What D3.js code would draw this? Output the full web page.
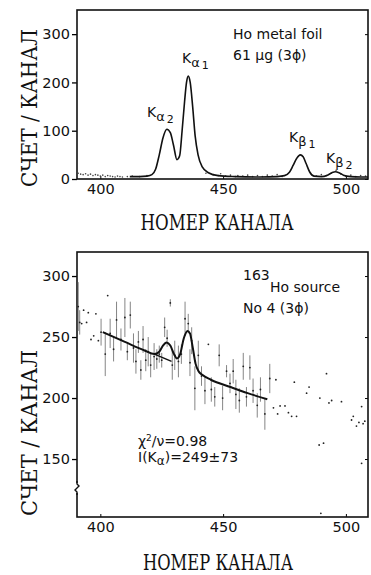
<!DOCTYPE html>
<html>
<head>
<meta charset="utf-8">
<script src="https://cdn.jsdelivr.net/npm/d3@7"></script>
<style>
  body { margin: 0; background: #fff; }
  svg { display: block; }
  .tick text { font-family: 'DejaVu Sans', sans-serif; font-size: 14.5px; fill: #111; }
  .note { font-family: 'DejaVu Sans', sans-serif; font-size: 14px; fill: #111; }
  .title { font-family: 'DejaVu Serif', serif; font-size: 22px; fill: #111; }
</style>
</head>
<body>
<div id="chart"></div>
<script>
// top panel: Ho metal foil spectrum (smooth curve + scattered background counts)
const foilChannels = [412, 416, 419, 421, 422.5, 424, 425.5, 427.1, 428.5, 429.8, 431.2, 432.3, 433.3, 434.3, 435.1, 435.8, 436.6, 437.6, 438.6, 439.8, 441.5, 444, 448, 455, 465, 472, 475, 477, 478.5, 480, 481.4, 482.6, 483.8, 485.2, 487, 490, 492.5, 494.3, 495.7, 497.2, 499, 502, 506, 509];
const foilCounts = [5, 5, 6, 9, 20, 50, 85, 103, 96, 70, 40, 48, 100, 160, 200, 213, 200, 150, 90, 50, 25, 13, 7, 5, 4, 5, 7, 14, 28, 43, 50, 46, 32, 15, 6, 5, 8, 13, 15, 13, 8, 5, 4, 4];
const foilDotChannels = [391, 392, 393, 394, 395, 396, 397, 398, 399, 400, 401, 402, 403, 404, 405, 406, 407, 408, 409, 411, 413, 416, 419, 443, 446, 448, 449, 451, 453, 455, 456, 458, 460, 462, 464, 466, 468, 470, 472, 474, 488, 490, 492, 494, 496, 498, 500, 502, 504, 506, 508];
const foilDotCounts = [12, 10, 9, 11, 8, 10, 7, 9, 8, 6, 8, 5, 7, 6, 5, 4, 6, 5, 4, 5, 6, 5, 7, 12, 9, 7, 11, 6, 8, 5, 7, 6, 8, 5, 7, 5, 8, 6, 9, 5, 6, 9, 7, 12, 18, 10, 6, 8, 5, 7, 6];

// bottom panel: 163Ho source, points with error bars
const srcChannels = [391, 391.6, 400.3, 402, 404, 405.4, 406.6, 408.4, 410, 411, 412.2, 413.5, 414.5, 415.5, 416.5, 417.4, 418.5, 419.5, 420.5, 421.9, 423, 424, 425, 426.2, 427.2, 428.5, 429.3, 430.3, 431.8, 433, 434.5, 435.8, 436.5, 437.2, 438.5, 439.9, 441.2, 442.6, 445.2, 446.6, 448.4, 449.8, 451.4, 452.8, 454.1, 455.2, 456.6, 458.2, 459.5, 460.9, 462.2, 463.9, 465.2, 467, 469];
const srcCounts = [275, 262, 254, 236, 253, 240, 264, 248, 266, 238, 268, 241, 230, 246, 223, 248, 231, 238, 227, 234, 232, 236, 231, 258, 249, 278, 227, 235, 230, 236, 265, 261, 229, 247, 208, 235, 218, 206, 207, 201, 235, 200, 222, 212, 222, 203, 198, 226, 201, 225, 206, 194, 207, 187, 216];
const srcErrors = [20, 10, 11, 18, 12, 10, 15, 9, 16, 7, 11, 12, 10, 9, 8, 11, 9, 12, 10, 11, 8, 7, 6, 8, 7, 3, 12, 12, 13, 8, 14, 8, 11, 11, 18, 12, 8, 11, 10, 8, 9, 10, 5, 8, 10, 12, 10, 11, 8, 10, 10, 10, 10, 13, 12];
const srcDotChannels = [392.4, 393.2, 394.4, 395.1, 396.2, 397.3, 398.2, 399.2, 403, 444, 470.5, 471.5, 472.2, 473.2, 475.2, 476.6, 477.9, 479, 479.9, 484, 485, 489.1, 489.4, 489.8, 490.9, 492.1, 493.1, 494.2, 498.2, 502.3, 503, 504.3, 505.3, 506.4, 506.4, 507, 507.7];
const srcDotCounts = [261, 272, 262, 270, 248, 251, 269, 247, 284, 244, 192, 215, 187, 193.5, 193.5, 188, 185, 213, 185, 204, 209, 161.5, 200, 105.5, 163, 220, 196, 198, 197, 182, 185, 177, 180, 193, 146.5, 179, 181];
const fitChannels = [401, 410, 418, 422, 424, 425.5, 427, 428.5, 430, 431.2, 432.5, 434, 435.5, 436.5, 437.5, 438.8, 440, 441.5, 445, 453, 460, 468];
const fitCounts = [254, 246, 239, 236, 238, 243, 245.5, 243, 236, 232.5, 236, 249, 255, 253, 243, 228, 222, 219, 215, 209, 204, 199];
const bgChannels = [422, 429];
const bgCounts = [236, 230];

const xTicks = [400, 450, 500];
const topYTicks = [0, 100, 200, 300];
const bottomYTicks = [150, 200, 250, 300];

const width = 371;
const height = 575;
const left = 77;
const right = 368;

const svg = d3.select('#chart')
  .append('svg')
    .attr('width', width)
    .attr('height', height);

const x = d3.scaleLinear().domain([390.5, 509]).range([left, right]);
const yTop = d3.scaleLinear().domain([0, 350]).range([179, 10]);
const yBottom = d3.scaleLinear().domain([102.5, 319.7]).range([517, 252]);

const drawAxes = (y, yTicks, top, bottom) => {
  const gx = svg.append('g')
      .attr('transform', `translate(0, ${bottom})`)
      .call(d3.axisBottom(x).tickValues(xTicks).tickSizeInner(-3).tickSizeOuter(0).tickPadding(5));
  gx.select('.domain').remove();

  const gy = svg.append('g')
      .attr('transform', `translate(${left}, 0)`)
      .call(d3.axisLeft(y).tickValues(yTicks).tickSize(5).tickPadding(2));
  gy.select('.domain').remove();
  gy.selectAll('.tick line').attr('stroke-width', 1.3);

  // right side inner ticks
  svg.append('g')
      .attr('transform', `translate(${right}, 0)`)
      .call(d3.axisRight(y).tickValues(yTicks).tickSize(-3).tickFormat(''))
      .select('.domain').remove();

  svg.append('rect')
      .attr('x', left)
      .attr('y', top)
      .attr('width', right - left)
      .attr('height', bottom - top)
      .attr('fill', 'none')
      .attr('stroke', '#111')
      .attr('stroke-width', 1.6);
};

drawAxes(yTop, topYTicks, 10, 179);
drawAxes(yBottom, bottomYTicks, 252, 517);

// axis break on lower panel
svg.append('rect').attr('x', left - 2).attr('y', 483).attr('width', 4).attr('height', 10).attr('fill', '#fff');
svg.append('path')
    .attr('d', `M${left},481 L${left},484 L${left + 2},486 L${left - 2},490 L${left},492 L${left},495`)
    .attr('fill', 'none')
    .attr('stroke', '#111')
    .attr('stroke-width', 1.4);

// top panel marks
svg.append('g')
  .selectAll('circle')
  .data(foilDotChannels)
  .join('circle')
    .attr('cx', d => x(d))
    .attr('cy', (d, i) => yTop(foilDotCounts[i]))
    .attr('r', 0.8)
    .attr('fill', '#444');

const foilLine = d3.line()
    .x(d => x(d))
    .y((d, i) => yTop(foilCounts[i]))
    .curve(d3.curveMonotoneX);

svg.append('path')
    .attr('d', foilLine(foilChannels))
    .attr('fill', 'none')
    .attr('stroke', '#111')
    .attr('stroke-width', 1.6);

// bottom panel marks
svg.append('g')
  .selectAll('line')
  .data(srcChannels)
  .join('line')
    .attr('x1', d => x(d))
    .attr('x2', d => x(d))
    .attr('y1', (d, i) => yBottom(srcCounts[i] + srcErrors[i]))
    .attr('y2', (d, i) => yBottom(srcCounts[i] - srcErrors[i]))
    .attr('stroke', '#666')
    .attr('stroke-width', 0.8);

svg.append('g')
  .selectAll('circle')
  .data(srcChannels)
  .join('circle')
    .attr('cx', d => x(d))
    .attr('cy', (d, i) => yBottom(srcCounts[i]))
    .attr('r', 0.9)
    .attr('fill', '#222');

svg.append('g')
  .selectAll('circle')
  .data(srcDotChannels)
  .join('circle')
    .attr('cx', d => x(d))
    .attr('cy', (d, i) => yBottom(srcDotCounts[i]))
    .attr('r', 0.9)
    .attr('fill', '#222');

const fitLine = d3.line()
    .x(d => x(d))
    .y((d, i) => yBottom(fitCounts[i]))
    .curve(d3.curveMonotoneX);

svg.append('path')
    .attr('d', fitLine(fitChannels))
    .attr('fill', 'none')
    .attr('stroke', '#111')
    .attr('stroke-width', 2);

svg.append('path')
    .attr('d', d3.line().x(d => x(d)).y((d, i) => yBottom(bgCounts[i]))(bgChannels))
    .attr('fill', 'none')
    .attr('stroke', '#111')
    .attr('stroke-width', 1.4);

// titles
const addTitle = (text, tx, ty, len, rotate) => {
  svg.append('text')
      .attr('class', 'title')
      .attr('text-anchor', 'middle')
      .attr('transform', rotate ? `translate(${tx}, ${ty}) rotate(-90)` : `translate(${tx}, ${ty})`)
      .attr('textLength', len)
      .attr('lengthAdjust', 'spacingAndGlyphs')
      .text(text);
};

addTitle('СЧЕТ / КАНАЛ', 37, 108, 158, true);
addTitle('НОМЕР КАНАЛА', 217, 230, 153, false);
addTitle('СЧЕТ / КАНАЛ', 37, 433, 166, true);
addTitle('НОМЕР КАНАЛА', 218, 570, 150, false);

// annotations
const note = (tx, ty) => svg.append('text').attr('class', 'note').attr('x', tx).attr('y', ty);

note(233, 39).text('Ho metal foil');
note(233, 60).text('61 μg (3ϕ)');

const kLabel = (tx, ty, greek, sub) => {
  const t = note(tx, ty).style('font-size', '14px');
  t.append('tspan').text('K');
  t.append('tspan').attr('dy', 4).style('font-size', '13px').text(greek);
  t.append('tspan').attr('dx', 2).attr('dy', 2).style('font-size', '11px').text(sub);
};

kLabel(182, 63, 'α', '1');
kLabel(147, 117, 'α', '2');
kLabel(289, 142, 'β', '1');
kLabel(326, 163, 'β', '2');

note(243, 280).text('163');
note(270, 292).text('Ho source');
note(243, 313).text('No 4 (3ϕ)');

const chi = note(138, 446);
chi.append('tspan').text('χ');
chi.append('tspan').attr('dy', -5).style('font-size', '9px').text('2');
chi.append('tspan').attr('dy', 5).text('/ν=0.98');

const intensity = note(138, 462);
intensity.append('tspan').text('I(K');
intensity.append('tspan').attr('dy', 3).style('font-size', '12px').text('α');
intensity.append('tspan').attr('dy', -3).text(')=249±73');
</script>
</body>
</html>
